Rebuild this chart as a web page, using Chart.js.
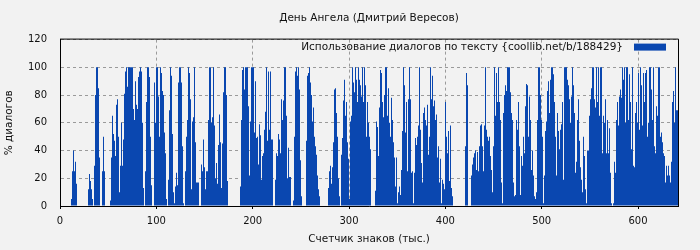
<!DOCTYPE html>
<html>
<head>
<meta charset="utf-8">
<title>День Ангела (Дмитрий Вересов)</title>
<script src="https://cdn.jsdelivr.net/npm/chart.js@4/dist/chart.umd.min.js"></script>
<style>
  html, body { margin: 0; padding: 0; background: #f2f2f2; }
  #wrap { width: 700px; height: 250px; }
</style>
</head>
<body>
<div id="wrap"><canvas id="chart" width="700" height="250"></canvas></div>
<script>
const chartTitle = "День Ангела (Дмитрий Вересов)";
const seriesLabel = "Использование диалогов по тексту {coollib.net/b/188429}";
const xTitle = "Счетчик знаков (тыс.)";
const yTitle = "% диалогов";

const xTickValues = [0, 100, 200, 300, 400, 500, 600];
const yTickValues = [0, 20, 40, 60, 80, 100, 120];
const counterMax = 641.5;

// one reading per pixel column of the picture, left to right
const dialogShare = [
  0,0,0,0,0,0,0,0,0,0,0,
  5,25,40,25,32,16,
  0,0,0,0,0,0,0,0,0,0,0,
  12,23,18,12,5,0,
  29,80,100,100,85,35,
  0,0,
  25,50,25,
  0,0,0,0,0,
  4,35,65,52,47,36,73,77,50,10,29,60,29,48,81,97,100,86,100,100,100,100,100,70,62,90,
  73,70,93,97,100,97,60,13,0,25,
  75,100,100,93,50,15,0,0,89,60,
  100,100,79,50,100,96,83,80,53,38,
  5,0,19,69,100,94,52,10,2,14,
  24,15,89,100,100,89,43,2,0,25,
  50,62,100,96,77,12,61,64,100,46,
  17,17,17,0,0,30,25,48,28,12,
  25,25,62,100,100,60,64,100,
  58,20,31,16,44,66,46,13,45,82,
  100,100,80,18,0,0,0,0,0,0,
  0,0,0,0,0,0,14,62,98,100,
  84,100,100,100,72,22,61,100,100,100,
  53,90,49,50,30,59,51,19,36,38,
  55,68,100,47,97,55,97,48,48,0,
  0,19,38,36,52,48,38,77,62,76,
  100,100,65,20,42,21,21,0,
  0,4,50,97,100,94,100,84,33,7,
  0,0,0,0,47,94,96,100,89,80,
  61,71,50,43,37,22,12,7,0,0,
  0,0,0,0,0,0,13,25,29,16,
  28,46,84,85,67,50,20,7,0,37,
  49,76,91,65,75,46,34,5,61,65,
  100,89,82,100,91,75,100,91,87,79,
  100,75,100,87,50,75,60,50,
  41,0,0,0,0,11,61,57,36,71,
  98,96,75,64,80,100,100,65,85,60,
  50,78,62,46,35,14,35,2,10,14,
  8,26,54,100,87,53,75,25,77,100,
  77,24,25,2,24,49,44,50,58,100,
  55,31,17,67,71,62,58,73,37,50,
  100,77,94,72,76,62,66,35,43,17,
  34,2,19,16,12,75,50,38,
  54,18,58,13,7,0,0,0,0,0,
  0,0,0,0,0,0,0,43,96,87,
  0,0,0,22,30,35,38,40,26,39,
  25,43,58,59,43,25,58,100,55,50,
  47,50,36,26,10,43,100,65,96,75,
  100,75,62,17,2,67,80,87,83,100,
  100,100,82,67,62,17,7,8,62,55,
  75,43,8,36,29,50,38,72,
  88,87,50,79,62,26,40,22,7,5,
  10,62,100,100,80,62,50,2,22,54,
  61,83,90,67,91,100,100,95,75,50,
  22,67,54,41,55,59,75,19,100,100,
  100,91,87,77,60,79,100,87,67,24,
  32,62,77,47,28,19,10,50,36,12,
  2,40,40,65,77,85,100,100,77,71,
  100,75,100,65,100,100,38,65,
  60,77,38,62,38,56,24,2,0,2,
  32,24,62,75,58,79,84,78,100,91,
  100,60,100,100,62,95,75,41,100,29,
  28,67,75,60,96,55,100,87,58,96,
  75,96,98,50,60,100,100,84,62,100,
  43,38,72,65,100,100,50,53,46,38,
  36,17,29,22,29,22,17,32,75,83,
  60,100,69,69
];

const barColor = "#0a47b0";
const kPerColumn = counterMax / dialogShare.length;
const points = dialogShare.map((v, i) => ({ x: (i + 0.5) * kPerColumn, y: v }));

Chart.defaults.font.family = "'DejaVu Sans', sans-serif";
Chart.defaults.font.size = 10;
Chart.defaults.color = "#111";

// frame on top/right plus the legend drawn inside the plot, top right
const framePlugin = {
  id: "frameAndLegend",
  afterDraw(chart) {
    const { ctx, chartArea: a } = chart;
    ctx.save();
    ctx.strokeStyle = "#000";
    ctx.lineWidth = 1;
    ctx.beginPath();
    ctx.moveTo(a.left, a.top - 0.5);
    ctx.lineTo(a.right + 0.5, a.top - 0.5);
    ctx.lineTo(a.right + 0.5, a.bottom);
    ctx.stroke();

    ctx.fillStyle = barColor;
    ctx.fillRect(a.right - 44, a.top + 4, 32, 7);
    ctx.fillStyle = "#111";
    ctx.font = "10.5px 'DejaVu Sans'";
    ctx.textAlign = "right";
    ctx.textBaseline = "middle";
    ctx.fillText(seriesLabel, a.right - 55, a.top + 7.5);
    ctx.restore();
  }
};

new Chart(document.getElementById("chart"), {
  type: "bar",
  data: {
    datasets: [{
      label: seriesLabel,
      data: points,
      backgroundColor: barColor,
      borderWidth: 0,
      barThickness: 1,
      inflateAmount: 0,
      barPercentage: 1,
      categoryPercentage: 1
    }]
  },
  options: {
    responsive: false,
    animation: false,
    devicePixelRatio: 1,
    layout: { padding: { left: 0, right: 22, top: 0, bottom: 0 } },
    plugins: {
      legend: { display: false },
      tooltip: { enabled: false },
      title: {
        display: true,
        text: chartTitle,
        fullSize: false,
        color: "#111",
        font: { size: 10.5, weight: "normal" },
        padding: { top: 12, bottom: 15 }
      }
    },
    scales: {
      x: {
        type: "linear",
        min: 0,
        max: counterMax,
        offset: false,
        afterBuildTicks(scale) {
          scale.ticks = xTickValues.map(v => ({ value: v }));
        },
        afterFit(scale) { scale.height = 44; },
        ticks: { padding: 6, maxRotation: 0, autoSkip: false },
        grid: {
          offset: false,
          color: "#9a9a9a",
          lineWidth: 1,
          tickLength: 3,
          tickColor: "#000",
          tickBorderDash: []
        },
        border: { display: true, color: "#000", width: 1, dash: [3, 3] },
        title: { display: true, text: xTitle, font: { size: 10.5 }, padding: { top: 0, bottom: 4 } }
      },
      y: {
        min: 0,
        max: 120,
        afterBuildTicks(scale) {
          scale.ticks = yTickValues.map(v => ({ value: v }));
        },
        afterFit(scale) { scale.width = 60; },
        ticks: { padding: 13 },
        grid: { offset: false, color: "#9a9a9a", lineWidth: 1, drawTicks: false },
        border: { display: true, color: "#000", width: 1, dash: [3, 3] },
        title: { display: true, text: yTitle, font: { size: 10.5 }, padding: { top: 3, bottom: 0 } }
      }
    }
  },
  plugins: [framePlugin]
});
</script>
</body>
</html>
